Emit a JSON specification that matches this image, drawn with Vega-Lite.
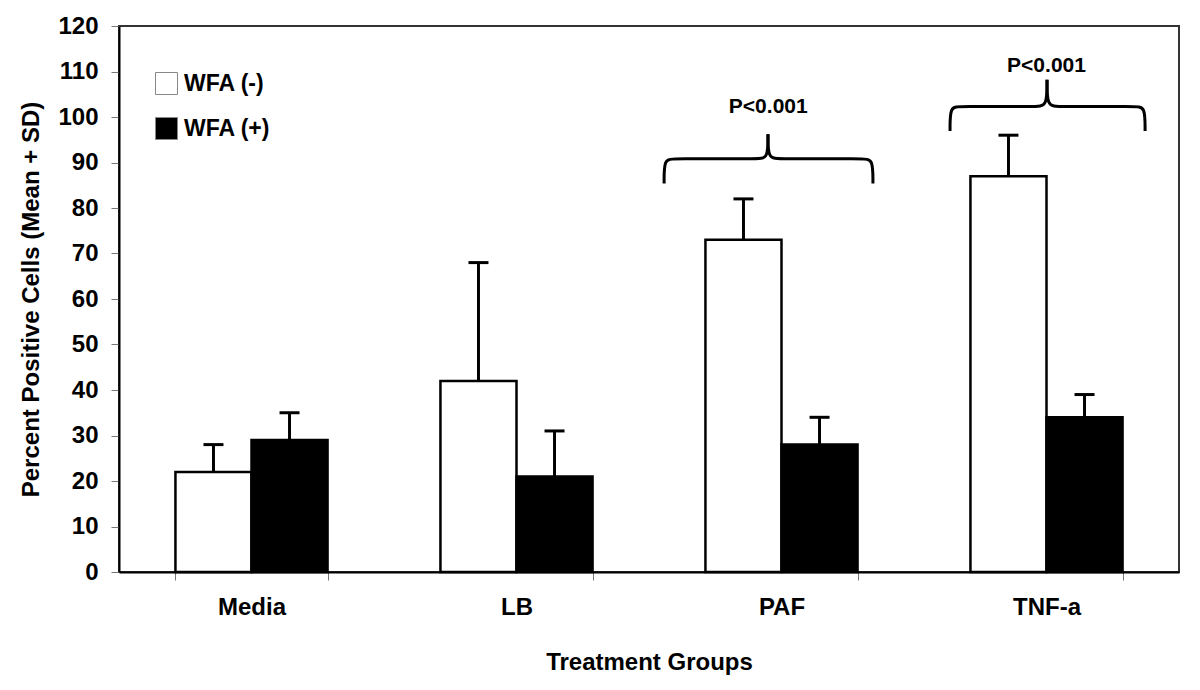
{
  "$schema": "https://vega.github.io/schema/vega-lite/v6.json",
  "width": 1060,
  "height": 546,
  "autosize": {"type": "none"},
  "padding": {"left": 119, "top": 26, "right": 21, "bottom": 118},
  "background": "white",
  "config": {
    "font": "Liberation Sans",
    "view": {"stroke": "#333", "strokeWidth": 2},
    "axis": {
      "labelFont": "Liberation Sans", "labelFontWeight": "bold", "labelFontSize": 24, "labelColor": "black",
      "titleFont": "Liberation Sans", "titleFontWeight": "bold", "titleFontSize": 24, "titleColor": "black",
      "domainColor": "black", "domainWidth": 2, "tickColor": "#555", "tickWidth": 1.5, "tickSize": 8, "grid": false
    },
    "legend": {"labelFont": "Liberation Sans", "labelFontWeight": "bold", "labelFontSize": 23, "labelColor": "black"}
  },
  "datasets": {
    "bars": [
      {"group": "Media", "type": "WFA (-)", "mean": 22, "upper": 28},
      {"group": "Media", "type": "WFA (+)", "mean": 29, "upper": 35},
      {"group": "LB", "type": "WFA (-)", "mean": 42, "upper": 68},
      {"group": "LB", "type": "WFA (+)", "mean": 21, "upper": 31},
      {"group": "PAF", "type": "WFA (-)", "mean": 73, "upper": 82},
      {"group": "PAF", "type": "WFA (+)", "mean": 28, "upper": 34},
      {"group": "TNF-a", "type": "WFA (-)", "mean": 87, "upper": 96},
      {"group": "TNF-a", "type": "WFA (+)", "mean": 34, "upper": 39}
    ],
    "braces": [
      {"seg": "PAF-L", "idx": 0, "bx": 2.057, "by": 85.4},
      {"seg": "PAF-L", "idx": 1, "bx": 2.057, "by": 90.8},
      {"seg": "PAF-L", "idx": 2, "bx": 2.09, "by": 90.8},
      {"seg": "PAF-L", "idx": 3, "bx": 2.41, "by": 90.8},
      {"seg": "PAF-L", "idx": 4, "bx": 2.449, "by": 90.8},
      {"seg": "PAF-L", "idx": 5, "bx": 2.449, "by": 96.2},
      {"seg": "PAF-R", "idx": 0, "bx": 2.845, "by": 85.4},
      {"seg": "PAF-R", "idx": 1, "bx": 2.845, "by": 90.8},
      {"seg": "PAF-R", "idx": 2, "bx": 2.812, "by": 90.8},
      {"seg": "PAF-R", "idx": 3, "bx": 2.49, "by": 90.8},
      {"seg": "PAF-R", "idx": 4, "bx": 2.449, "by": 90.8},
      {"seg": "PAF-R", "idx": 5, "bx": 2.449, "by": 96.2},
      {"seg": "TNF-L", "idx": 0, "bx": 3.136, "by": 96.9},
      {"seg": "TNF-L", "idx": 1, "bx": 3.136, "by": 102.3},
      {"seg": "TNF-L", "idx": 2, "bx": 3.17, "by": 102.3},
      {"seg": "TNF-L", "idx": 3, "bx": 3.462, "by": 102.3},
      {"seg": "TNF-L", "idx": 4, "bx": 3.502, "by": 102.3},
      {"seg": "TNF-L", "idx": 5, "bx": 3.502, "by": 108.2},
      {"seg": "TNF-R", "idx": 0, "bx": 3.872, "by": 96.9},
      {"seg": "TNF-R", "idx": 1, "bx": 3.872, "by": 102.3},
      {"seg": "TNF-R", "idx": 2, "bx": 3.838, "by": 102.3},
      {"seg": "TNF-R", "idx": 3, "bx": 3.542, "by": 102.3},
      {"seg": "TNF-R", "idx": 4, "bx": 3.502, "by": 102.3},
      {"seg": "TNF-R", "idx": 5, "bx": 3.502, "by": 108.2}
    ],
    "notes": [
      {"tx": 2.45, "ty": 102.3, "label": "P<0.001"},
      {"tx": 3.5, "ty": 111.3, "label": "P<0.001"}
    ]
  },
  "layer": [
    {
      "data": {"name": "bars"},
      "encoding": {
        "x": {
          "field": "group", "type": "nominal", "sort": ["Media", "LB", "PAF", "TNF-a"],
          "scale": {"paddingInner": 0.426, "paddingOuter": 0.213},
          "axis": {"title": "Treatment Groups", "labelAngle": 0, "tickBand": "extent", "tickSize": 8, "labelPadding": 15, "titlePadding": 31, "tickColor": "#777", "tickWidth": 1}
        },
        "xOffset": {"field": "type", "type": "nominal", "sort": ["WFA (-)", "WFA (+)"], "scale": {"paddingInner": 0, "paddingOuter": 0}}
      },
      "layer": [
        {
          "mark": {"type": "rule", "stroke": "black", "strokeWidth": 3},
          "encoding": {
            "y": {"field": "mean", "type": "quantitative"},
            "y2": {"field": "upper"}
          }
        },
        {
          "mark": {"type": "tick", "color": "black", "size": 20, "thickness": 3, "opacity": 1},
          "encoding": {
            "y": {"field": "upper", "type": "quantitative"}
          }
        },
        {
          "mark": {"type": "bar", "stroke": "black", "strokeWidth": 2.5},
          "encoding": {
            "y": {
              "field": "mean", "type": "quantitative",
              "scale": {"domain": [0, 120], "nice": false},
              "axis": {"title": "Percent Positive Cells (Mean + SD)", "values": [0,10,20,30,40,50,60,70,80,90,100,110,120], "labelPadding": 13, "titlePadding": 14, "tickColor": "#777", "tickWidth": 1}
            },
            "color": {
              "field": "type", "type": "nominal", "sort": ["WFA (-)", "WFA (+)"],
              "scale": {"domain": ["WFA (-)", "WFA (+)"], "range": ["white", "black"]},
              "legend": {
                "title": null, "orient": "none", "legendX": 36, "legendY": 46, "padding": 0,
                "symbolType": "square", "symbolSize": 484, "symbolStrokeColor": "#888", "symbolStrokeWidth": 1,
                "rowPadding": 18, "labelOffset": 6
              }
            }
          }
        }
      ]
    },
    {
      "layer": [
        {
          "data": {"name": "braces"},
          "mark": {"type": "line", "interpolate": "basis", "stroke": "black", "strokeWidth": 3},
          "encoding": {
            "x": {"field": "bx", "type": "quantitative", "scale": {"domain": [0, 4], "nice": false, "zero": false}, "axis": null},
            "y": {"field": "by", "type": "quantitative", "scale": {"domain": [0, 120], "nice": false}},
            "detail": {"field": "seg"},
            "order": {"field": "idx", "type": "quantitative"}
          }
        },
        {
          "data": {"name": "notes"},
          "mark": {"type": "text", "font": "Liberation Sans", "fontWeight": "bold", "fontSize": 21, "color": "black", "baseline": "middle", "align": "center"},
          "encoding": {
            "x": {"field": "tx", "type": "quantitative", "scale": {"domain": [0, 4], "nice": false, "zero": false}, "axis": null},
            "y": {"field": "ty", "type": "quantitative", "scale": {"domain": [0, 120], "nice": false}},
            "text": {"field": "label"}
          }
        }
      ]
    }
  ],
  "resolve": {"scale": {"x": "independent"}}
}
